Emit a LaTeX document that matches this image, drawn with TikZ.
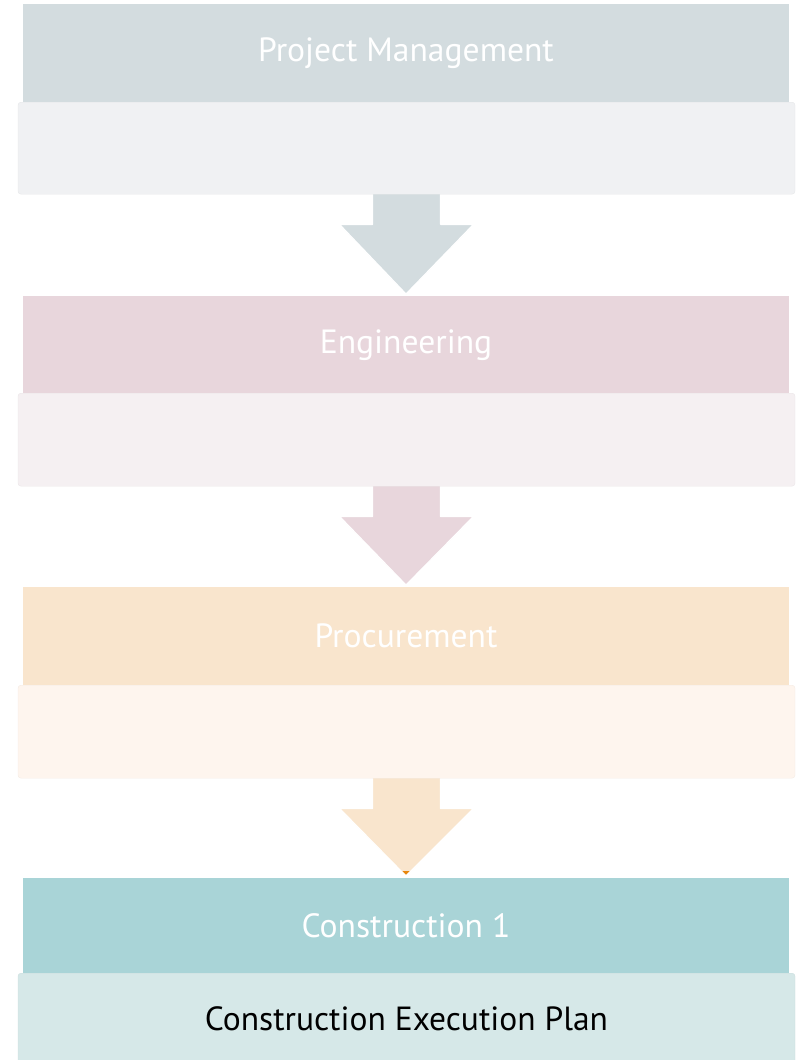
\documentclass[tikz,border=0pt]{standalone}
\usepackage{fontspec}
\setmainfont{PT Sans}
\usetikzlibrary{calc,backgrounds}
\definecolor{hA}{HTML}{D3DCDF}
\definecolor{hB}{HTML}{E8D6DC}
\definecolor{hC}{HTML}{F9E5CD}
\definecolor{hD}{HTML}{A9D4D7}
\definecolor{bA}{HTML}{F0F1F3}
\definecolor{bB}{HTML}{F5F0F2}
\definecolor{bC}{HTML}{FEF5EE}
\definecolor{bD}{HTML}{D6E8E8}
\definecolor{tipC}{HTML}{E8870E}
\begin{document}
\begin{tikzpicture}[x=1pt,y=-1pt,
  headbox/.style={anchor=north, minimum width=766pt, inner sep=0pt, text=white,
    font=\fontsize{33.6}{40}\selectfont},
  bodybox/.style={anchor=north, minimum width=777pt, inner sep=0pt, rounded corners=3pt,
    font=\fontsize{33.5}{38}\selectfont, text=black},
  flowarrow/.style={draw=white, line width=1.2pt, line join=round}
]
\useasboundingbox (0,0) rectangle (796,1060);
\clip (0,0) rectangle (796,1060);

\node[headbox, fill=hA, minimum height=98pt] (h1) at (406,4) {Project Management};
\node[bodybox, fill=bA, draw=bA!96!black, minimum height=92pt] (b1) at (406.5,102) {};

\node[headbox, fill=hB, minimum height=97pt] (h2) at (406,296) {Engineering};
\node[bodybox, fill=bB, draw=bB!96!black, minimum height=93pt] (b2) at (406.5,393) {};

\node[headbox, fill=hC, minimum height=98pt] (h3) at (406,587) {Procurement};
\node[bodybox, fill=bC, draw=bC!96!black, minimum height=93pt] (b3) at (406.5,685) {};

\node[headbox, fill=hD, minimum height=95pt] (h4) at (406,878) {Construction 1};
\node[bodybox, fill=bD, draw=bD!96!black, minimum height=91pt] (b4) at (406.5,973) {Construction Execution Plan};

\begin{scope}[on background layer]
\foreach \b/\h/\c in {b1/h2/hA, b2/h3/hB, b3/h4/hC}{
  \path[flowarrow, fill=\c]
    ($(\b.south)+(-34,-2)$) -- ($(\b.south)+(34,-2)$) -- ($(\b.south)+(34,30)$)
    -- ($(\b.south)+(67,30)$) -- ($(\h.north)+(0,-2)$) -- ($(\b.south)+(-67,30)$)
    -- ($(\b.south)+(-34,30)$) -- cycle;
}
\end{scope}

\fill[tipC] ($(h4.north)+(-3.5,-7)$) -- ($(h4.north)+(3.5,-7)$) -- ($(h4.north)+(0,-3.5)$) -- cycle;
\end{tikzpicture}
\end{document}
